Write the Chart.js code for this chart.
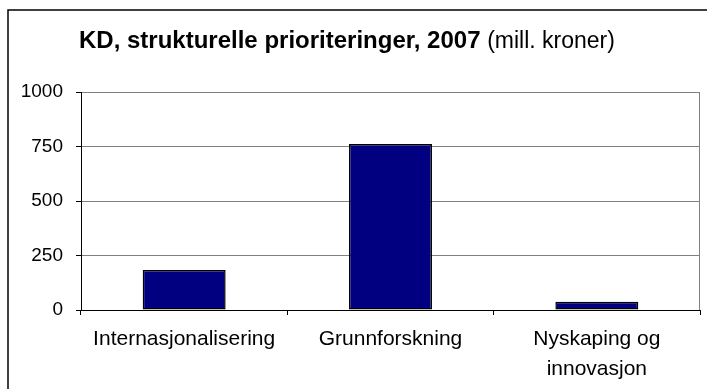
<!DOCTYPE html>
<html>
<head>
<meta charset="UTF-8">
<title>KD, strukturelle prioriteringer, 2007</title>
<script src="https://cdn.jsdelivr.net/npm/chart.js@4.4.0/dist/chart.umd.min.js"></script>
<style>
body { margin: 0; background: #fff; }
</style>
</head>
<body>
<canvas id="myChart" width="707" height="389"></canvas>
<script>
// mill. kroner per prioritering
const categories = ['Internasjonalisering', 'Grunnforskning', ['Nyskaping og', 'innovasjon']];
const amounts = [184, 762, 38];
const yTicks = [0, 250, 500, 750, 1000];

const titleBold = 'KD, strukturelle prioriteringer, 2007';
const titleUnit = '(mill. kroner)';
const fontName = '"Liberation Sans", Arial, sans-serif';

// ramme rundt figuren, tittel og grå kant på plottområdet
const framePlugin = {
    id: 'frame',
    beforeDraw(chart) {
        const ctx = chart.ctx;
        ctx.save();
        ctx.fillStyle = '#fff';
        ctx.fillRect(0, 0, chart.width, chart.height);
        ctx.strokeStyle = '#000';
        ctx.lineWidth = 1.5;
        ctx.strokeRect(8, 10, chart.width + 20, chart.height + 20);

        ctx.fillStyle = '#000';
        ctx.textBaseline = 'alphabetic';
        ctx.font = 'bold 24px ' + fontName;
        ctx.fillText(titleBold, 79, 48);
        const w = ctx.measureText(titleBold + ' ').width;
        ctx.font = '23px ' + fontName;
        ctx.fillText(titleUnit, 79 + w, 48);
        ctx.restore();
    },
    beforeDatasetsDraw(chart) {
        const a = chart.chartArea;
        const ctx = chart.ctx;
        ctx.save();
        ctx.strokeStyle = '#808080';
        ctx.lineWidth = 1;
        ctx.beginPath();
        ctx.moveTo(Math.round(a.right) - 0.5, a.top);
        ctx.lineTo(Math.round(a.right) - 0.5, a.bottom);
        ctx.stroke();
        ctx.restore();
    }
};

const canvas = document.getElementById('myChart');
const myChart = new Chart(canvas, {
    type: 'bar',
    data: {
        labels: categories,
        datasets: [{
            data: amounts,
            backgroundColor: '#000080',
            borderColor: '#000',
            borderWidth: 1.5,
            borderSkipped: false,
            barPercentage: 0.402,
            categoryPercentage: 1
        }]
    },
    options: {
        responsive: false,
        animation: false,
        layout: { padding: { top: 92, right: 7, left: 0, bottom: 0 } },
        plugins: {
            legend: { display: false },
            tooltip: { enabled: false }
        },
        scales: {
            x: {
                offset: true,
                grid: { offset: true, drawOnChartArea: false, tickLength: 5, tickColor: '#000' },
                border: { color: '#000', width: 1 },
                ticks: {
                    font: { family: fontName, size: 21, lineHeight: 1.45 },
                    color: '#000',
                    padding: 9,
                    maxRotation: 0,
                    autoSkip: false
                },
                afterFit: s => { s.height = 79; }
            },
            y: {
                min: 0,
                max: 1000,
                afterBuildTicks: s => { s.ticks = yTicks.map(v => ({ value: v })); },
                ticks: {
                    font: { family: fontName, size: 19 },
                    color: '#000',
                    padding: 13,
                    callback: v => String(v)
                },
                grid: { color: '#808080', tickColor: '#000', tickLength: 5 },
                border: { color: '#000', width: 1 },
                afterFit: s => { s.width = 81; }
            }
        }
    },
    plugins: [framePlugin]
});
</script>
</body>
</html>
